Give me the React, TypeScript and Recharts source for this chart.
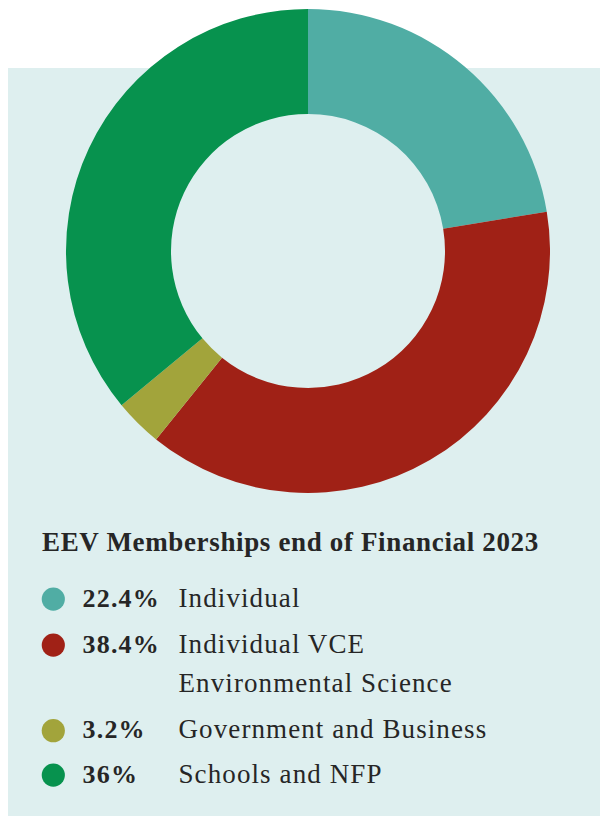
import * as React from 'react';
import { PieChart, Pie, Cell, Legend } from 'recharts';

const categories = ['Individual', 'Individual VCE Environmental Science', 'Government and Business', 'Schools and NFP'];
const shares = [22.4, 38.4, 3.2, 36];
const shareLabels = ['22.4%', '38.4%', '3.2%', '36%'];
const labelLines = [['Individual'], ['Individual VCE', 'Environmental Science'], ['Government and Business'], ['Schools and NFP']];
const colors = ['#50ada4', '#a02116', '#a2a43b', '#07924e'];
const title = 'EEV Memberships end of Financial 2023';

const data = categories.map((name, i) => ({ name, value: shares[i] }));

const serif = '"Liberation Serif", "DejaVu Serif", serif';
const legendTop = 520;
// baselines (page y) for each legend row, and the extra wrapped line
const rowBaselines = [606.7, 652.7, 738.3, 782.7];
const wrapGap = 39;

function MembershipLegend() {
  const off = (y: number) => y - legendTop;
  return (
    <svg width={600} height={290} style={{ display: 'block' }}>
      <text x={42} y={off(551)} fontFamily={serif} fontSize={27} fontWeight={700} fill="#262626" style={{ letterSpacing: 0.65 }}>
        {title}
      </text>
      {categories.map((c, i) => (
        <g key={c}>
          <circle cx={53.3} cy={off(rowBaselines[i] - 7.6)} r={11.6} fill={colors[i]} />
          <text x={82.5} y={off(rowBaselines[i])} fontFamily={serif} fontSize={26} fontWeight={700} fill="#262626" style={{ letterSpacing: 1.2 }}>
            {shareLabels[i]}
          </text>
          {labelLines[i].map((l, j) => (
            <text key={l} x={178.5} y={off(rowBaselines[i] + j * wrapGap)} fontFamily={serif} fontSize={27} fill="#262626" style={{ letterSpacing: 1.1 }}>
              {l}
            </text>
          ))}
        </g>
      ))}
    </svg>
  );
}

export default function App() {
  return (
    <div style={{ position: 'absolute', left: 0, top: 0, width: 600, height: 816, background: '#ffffff', overflow: 'hidden' }}>
      <div style={{ position: 'absolute', left: 8, top: 68, width: 592, height: 748, background: '#deefef' }} />
      <div style={{ position: 'absolute', left: 0, top: 0 }}>
        <PieChart width={600} height={816} margin={{ top: 0, right: 0, bottom: 0, left: 0 }}>
          <Pie
            data={data}
            dataKey="value"
            nameKey="name"
            cx={308}
            cy={251}
            outerRadius={242}
            innerRadius={137}
            startAngle={90}
            endAngle={-270}
            stroke="none"
            isAnimationActive={false}
          >
            {data.map((d, i) => (
              <Cell key={d.name} fill={colors[i]} />
            ))}
          </Pie>
          <Legend
            layout="horizontal"
            verticalAlign="bottom"
            align="left"
            wrapperStyle={{ position: 'absolute', left: 0, top: legendTop, width: 600, height: 290 }}
            content={() => <MembershipLegend />}
          />
        </PieChart>
      </div>
    </div>
  );
}
